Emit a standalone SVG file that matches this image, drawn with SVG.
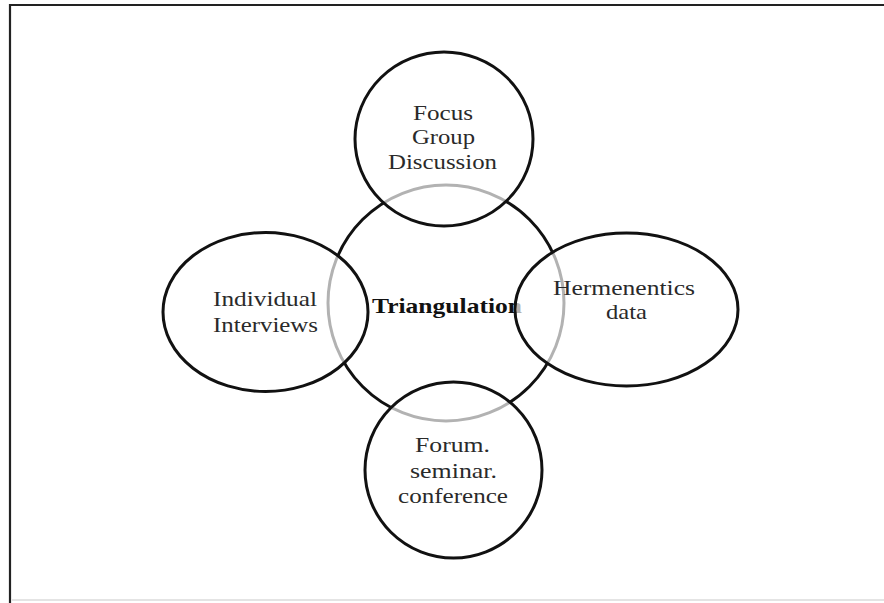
<svg xmlns="http://www.w3.org/2000/svg" width="884" height="603" viewBox="0 0 884 603">
  <style>
    .ring { stroke: #111; stroke-width: 3; }
    .hub { fill: #fff; }
    .spoke { fill: #fff; fill-opacity: 0.68; }
    .lbl { font-family: "Liberation Serif", "Times New Roman", serif; font-size: 22px; fill: #2a2a2a; }
    .hub-lbl { font-family: "Liberation Serif", "Times New Roman", serif; font-size: 22px; font-weight: bold; fill: #111; }
  </style>

  <rect width="884" height="603" fill="#fff"/>

  <!-- frame -->
  <g id="frame" fill="none">
    <path d="M10 603 V5 H884" stroke="#222" stroke-width="2.2"/>
    <path d="M12 600 H884" stroke="#e4e4e4" stroke-width="2"/>
  </g>

  <!-- central node -->
  <g id="triangulation">
    <circle class="ring hub" cx="446" cy="303" r="118"/>
    <text class="hub-lbl" x="372" y="313" textLength="150" lengthAdjust="spacingAndGlyphs">Triangulation</text>
  </g>

  <!-- surrounding nodes, translucent so the hub ring shows through -->
  <g id="focus-group">
    <ellipse class="ring spoke" cx="444" cy="139" rx="89" ry="87"/>
    <text class="lbl" x="413" y="120" textLength="60" lengthAdjust="spacingAndGlyphs">Focus</text>
    <text class="lbl" x="412" y="144" textLength="63" lengthAdjust="spacingAndGlyphs">Group</text>
    <text class="lbl" x="388" y="169" textLength="109" lengthAdjust="spacingAndGlyphs">Discussion</text>
  </g>

  <g id="individual-interviews">
    <ellipse class="ring spoke" cx="265.5" cy="312" rx="102.5" ry="79.5"/>
    <text class="lbl" x="213" y="306" textLength="104" lengthAdjust="spacingAndGlyphs">Individual</text>
    <text class="lbl" x="213" y="332" textLength="105" lengthAdjust="spacingAndGlyphs">Interviews</text>
  </g>

  <g id="hermeneutics-data">
    <ellipse class="ring spoke" cx="626.5" cy="309.5" rx="111.5" ry="76.5"/>
    <text class="lbl" x="553" y="295" textLength="142" lengthAdjust="spacingAndGlyphs">Hermenentics</text>
    <text class="lbl" x="606" y="319" textLength="41" lengthAdjust="spacingAndGlyphs">data</text>
  </g>

  <g id="forum-seminar">
    <ellipse class="ring spoke" cx="453.5" cy="470" rx="88.5" ry="88"/>
    <text class="lbl" x="415" y="452" textLength="75" lengthAdjust="spacingAndGlyphs">Forum.</text>
    <text class="lbl" x="410" y="478" textLength="87" lengthAdjust="spacingAndGlyphs">seminar.</text>
    <text class="lbl" x="398" y="503" textLength="110" lengthAdjust="spacingAndGlyphs">conference</text>
  </g>

  <g id="connectors"/>
</svg>
